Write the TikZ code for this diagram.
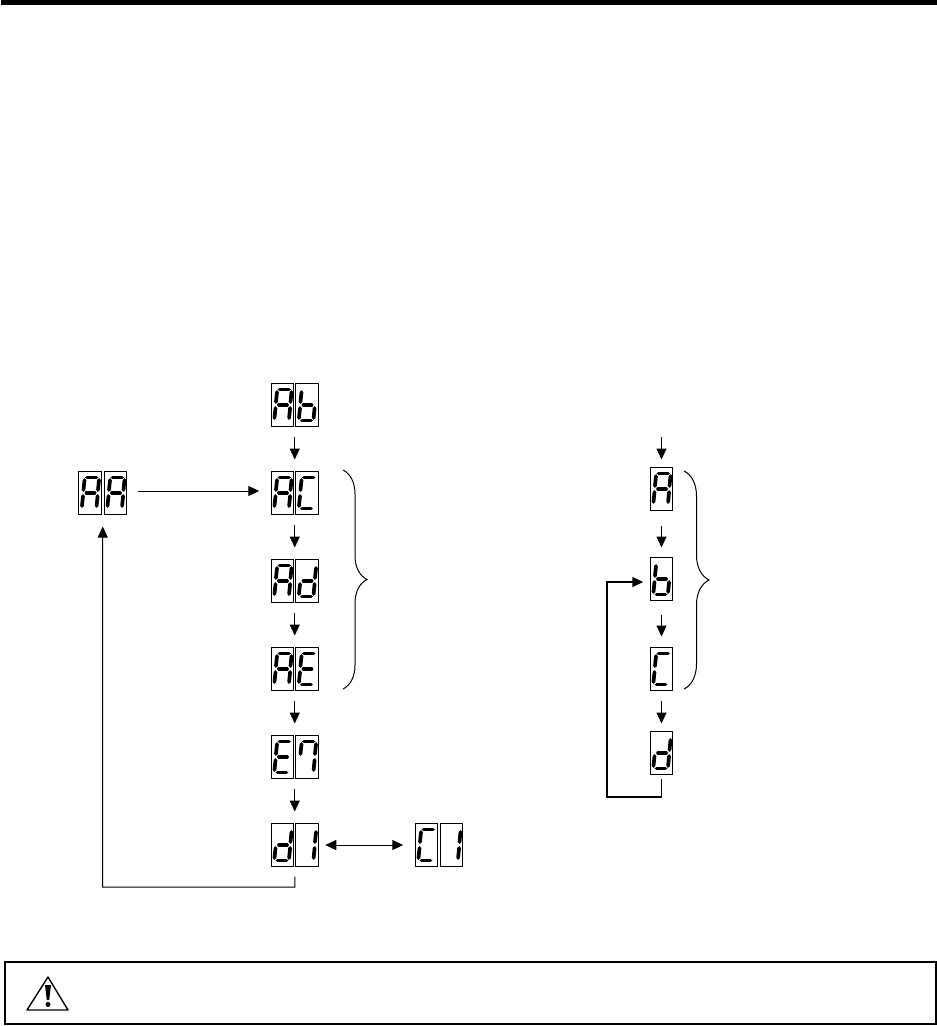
\documentclass[tikz,border=0pt]{standalone}
\usepackage{tikz}
\usetikzlibrary{arrows.meta, positioning, fit, calc, decorations.pathreplacing}

\tikzset{
    segline/.style={line width=3.7pt, line cap=round, black},
    sega/.pic={\draw[segline] (-3,-15.5) -- (6.5,-15.5);},
    segb/.pic={\draw[segline] (9,-13) -- (8,-3);},
    segc/.pic={\draw[segline] (7.6,3) -- (6.6,13);},
    segd/.pic={\draw[segline] (-5,15.5) -- (4,15.5);},
    sege/.pic={\draw[segline] (-7,3) -- (-8,13);},
    segf/.pic={\draw[segline] (-5.5,-13) -- (-6.5,-3);},
    segg/.pic={\draw[segline] (-3.5,0) -- (4.5,0);}
}
\newcommand{\showdigit}[2]{\foreach \segname in #2 {\pic at (#1.center) {seg\segname};}}
\newcommand{\letA}{a,b,c,e,f,g}
\newcommand{\letB}{c,d,e,f,g}
\newcommand{\letC}{a,d,e,f}
\newcommand{\letD}{b,c,d,e,g}
\newcommand{\letE}{a,d,e,f,g}
\newcommand{\letSeven}{a,b,c,f}
\newcommand{\letOne}{b,c}

\begin{document}
\begin{tikzpicture}[
    x=1pt, y=-1pt,
    cell/.style={rectangle, draw=black, line width=1pt, inner sep=0pt, outer sep=0pt, minimum width=22.5pt, minimum height=43pt},
    pair/.style={rectangle, inner sep=0pt, outer sep=0pt},
    flow/.style={line width=1pt, -{Triangle[length=11pt,width=10pt]}, shorten <=10pt, shorten >=12pt},
    curly/.style={line width=1pt, decorate, decoration={brace, amplitude=#1}},
    frame/.style={draw=black, line width=2pt}
]
    \useasboundingbox (0,0) rectangle (937,1026);

    % Header bar and warning box
    \fill[black] (1,0) rectangle (937,5);
    \node[frame, rectangle, inner sep=0pt, outer sep=0pt, minimum width=931pt, minimum height=62pt] (warnbox) at (470.5,993) {};
    \draw[line width=1.4pt, line join=round] (48,977) -- (68,1010) -- (27,1010) -- cycle;
    \fill[black] (45,985) -- (51,985) -- (49.2,1000) -- (46.8,1000) -- cycle;
    \fill[black] (48,1004.5) circle (2.5);

    % Main column
    \node[cell] (abl) at (282.5,405) {};
    \node[cell, right=2pt of abl] (abr) {};
    \node[cell, below=45pt of abl] (acl) {};
    \node[cell, right=2pt of acl] (acr) {};
    \node[cell, below=45pt of acl] (adl) {};
    \node[cell, right=2pt of adl] (adr) {};
    \node[cell, below=45pt of adl] (ael) {};
    \node[cell, right=2pt of ael] (aer) {};
    \node[cell, below=45pt of ael] (e7l) {};
    \node[cell, right=2pt of e7l] (e7r) {};
    \node[cell, below=45pt of e7l] (d1l) {};
    \node[cell, right=2pt of d1l] (d1r) {};
    \node[cell, right=97pt of d1r] (c1l) {};
    \node[cell, right=2.5pt of c1l] (c1r) {};
    \node[cell] (aal) at (90,493) {};
    \node[cell, right=3pt of aal] (aar) {};

    \node[pair, fit=(abl)(abr)] (ab) {};
    \node[pair, fit=(acl)(acr)] (ac) {};
    \node[pair, fit=(adl)(adr)] (ad) {};
    \node[pair, fit=(ael)(aer)] (ae) {};
    \node[pair, fit=(e7l)(e7r)] (e7) {};
    \node[pair, fit=(d1l)(d1r)] (d1) {};
    \node[pair, fit=(c1l)(c1r)] (c1) {};
    \node[pair, fit=(aal)(aar)] (aa) {};

    % Channel column
    \node[cell] (cha) at (661.5,489) {};
    \node[cell, below=47pt of cha] (chb) {};
    \node[cell, below=47pt of chb] (chc) {};
    \node[cell, below=41pt of chc] (chd) {};

    % Segments
    \showdigit{abl}{\letA} \showdigit{abr}{\letB}
    \showdigit{acl}{\letA} \showdigit{acr}{\letC}
    \showdigit{adl}{\letA} \showdigit{adr}{\letD}
    \showdigit{ael}{\letA} \showdigit{aer}{\letE}
    \showdigit{e7l}{\letE} \showdigit{e7r}{\letSeven}
    \showdigit{d1l}{\letD} \showdigit{d1r}{\letOne}
    \showdigit{c1l}{\letC} \showdigit{c1r}{\letOne}
    \showdigit{aal}{\letA} \showdigit{aar}{\letA}
    \showdigit{cha}{\letA} \showdigit{chb}{\letB}
    \showdigit{chc}{\letC} \showdigit{chd}{\letD}

    % Connections
    \coordinate (loopa) at (102.6,887);
    \coordinate (loopc) at (607,797);
    \coordinate (entry) at (661.5,437);
    \coordinate (backin) at ($(chb.west)+(0,3)$);
    \coordinate (aaout) at ($(aa.east)+(0,-2)$);
    \coordinate (acin) at ($(ac.west)+(0,-2)$);

    \draw[flow] (ab) -- (ac);
    \draw[flow] (ac) -- (ad);
    \draw[flow] (ad) -- (ae);
    \draw[flow] (ae) -- (e7);
    \draw[flow] (e7) -- (d1);
    \draw[flow, shorten <=11pt] (aaout) -- (acin);
    \draw[flow, {Triangle[length=11pt,width=10pt]}-{Triangle[length=11pt,width=10pt]}, shorten <=7pt] (d1) -- (c1);
    \draw[flow] (d1.south) |- (loopa) -- (aa.south);

    \draw[flow, shorten <=0pt, shorten >=8pt] (entry) -- (cha);
    \draw[flow, shorten <=15pt, shorten >=10pt] (cha) -- (chb);
    \draw[flow, shorten <=14pt, shorten >=11pt] (chb) -- (chc);
    \draw[flow, shorten <=10pt, shorten >=8pt] (chc) -- (chd);
    \draw[flow, line width=1.5pt, shorten <=4pt, shorten >=7pt] (chd.south) |- (loopc) |- (backin);

    % Braces
    \coordinate (bracea) at (343,470);
    \coordinate (braceb) at (343,689);
    \coordinate (bracec) at (684,471);
    \coordinate (braced) at (684,689);
    \draw[curly=24pt] (bracea) -- (braceb);
    \draw[curly=25pt] (bracec) -- (braced);
\end{tikzpicture}
\end{document}
